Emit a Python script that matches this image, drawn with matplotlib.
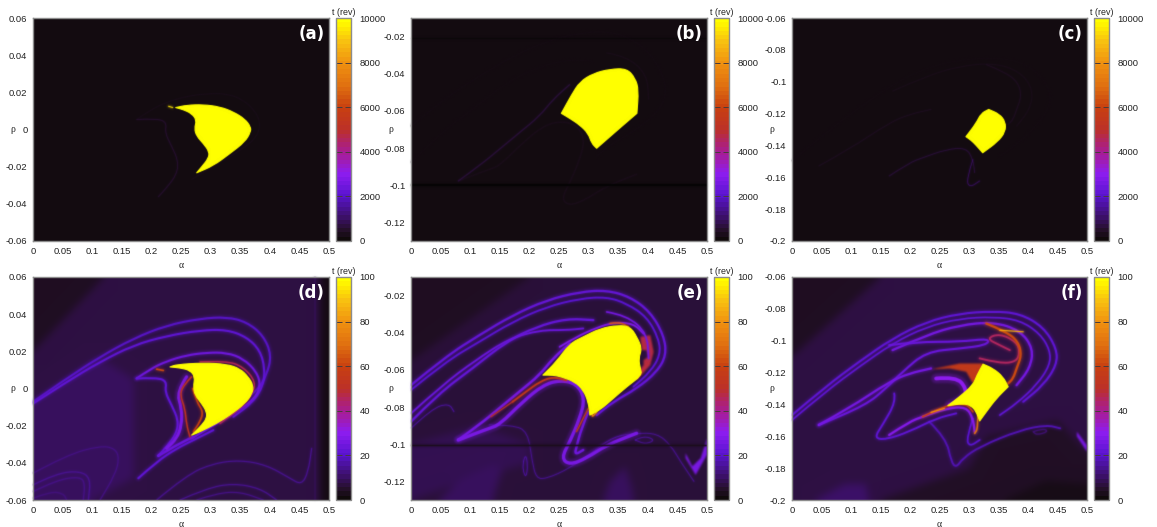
import numpy as np
import matplotlib
matplotlib.use("Agg")
import matplotlib.pyplot as plt
from matplotlib.colors import LinearSegmentedColormap, Normalize
from matplotlib.cm import ScalarMappable
from matplotlib.path import Path
from matplotlib.patches import PathPatch, Polygon

plt.rcParams['font.family'] = ['Liberation Sans', 'DejaVu Sans']

# ---- shared scale ----
CMAP_POS = [0, .04, .10, .20, .30, .36, .42, .50, .60, .70, .80, .90, .97, 1]
CMAP_COL = ['#100a0b', '#24102a', '#3c1068', '#5a14d0', '#8e1cf0', '#a01cb0', '#ac2080',
            '#bc3028', '#c84010', '#e07010', '#f09010', '#f8c010', '#ffee00', '#ffff00']
ALPHA_TICKS = [0, .05, .1, .15, .2, .25, .3, .35, .4, .45, .5]

# ---- panel axes ----
LIMS_AD = (.06, -.06)
LIMS_BE = (-.01, -.13)
LIMS_CF = (-.06, -.2)
TICKS_AD = [.06, .04, .02, 0, -.02, -.04, -.06]
TICKS_BE = [-.02, -.04, -.06, -.08, -.1, -.12]
TICKS_CF = [-.06, -.08, -.1, -.12, -.14, -.16, -.18, -.2]
CB_TICKS_TOP = [0, 2000, 4000, 6000, 8000, 10000]
CB_TICKS_BOT = [0, 20, 40, 60, 80, 100]

# ---- basin outlines (alpha, rho); a repeated vertex is a sharp tip ----
A_CORE_A = [.241, .241, .2596, .2877, .3159, .3384, .3581, .3677, .3677, .3581, .3328, .3046, .2765, .2765, .2849, .2962, .2979, .2877, .2765, .2725, .2765, .268, .2539]
A_CORE_R = [.0118, .0118, .0131, .0134, .0122, .0095, .0056, .0014, -.0013, -.0066, -.0129, -.0195, -.0233, -.0233, -.0201, -.0156, -.012, -.0075, -.0036, .0005, .005, .0086, .0107]
B_CORE_A = [.254, .254, .2711, .2852, .3079, .3362, .3646, .3788, .3845, .3816, .3816, .3589, .3362, .3136, .3136, .3051, .2994, .2852, .2682]
B_CORE_R = [-.0613, -.0613, -.0514, -.0443, -.0398, -.0375, -.0372, -.0424, -.0487, -.0613, -.0613, -.0675, -.0738, -.0801, -.0801, -.0774, -.0721, -.0676, -.064]
C_CORE_A = [.2948, .2948, .3119, .3204, .3334, .3334, .3515, .3617, .3617, .3487, .3232, .3232, .3119, .3034]
C_CORE_R = [-.1345, -.1345, -.1262, -.1199, -.1174, -.1174, -.1203, -.1251, -.1314, -.1377, -.1446, -.1446, -.1398, -.1367]
D_CORE_A = [.2314, .2314, .2427, .2877, .3271, .3496, .3637, .3721, .3705, .3581, .3328, .3102, .2821, .268, .268, .2764, .2849, .2933, .2933, .2849, .2736, .2708, .2736, .2652, .2483]
D_CORE_R = [.0116, .0116, .0129, .0138, .0131, .0107, .0063, .0018, -.0027, -.0081, -.0143, -.0188, -.0233, -.0251, -.0251, -.0224, -.0197, -.0161, -.0125, -.0081, -.0036, .0009, .0063, .0098, .0111]
E_CORE_A = [.2228, .2228, .2455, .2682, .2909, .3192, .3504, .3703, .3816, .3901, .3844, .3873, .3901, .3646, .3419, .3192, .3022, .3022, .2994, .2909, .2767, .254, .2398]
E_CORE_R = [-.0628, -.0628, -.0556, -.0458, -.0422, -.0377, -.0359, -.0368, -.0422, -.0485, -.0538, -.0592, -.0628, -.069, -.0753, -.0816, -.0843, -.0843, -.0771, -.0708, -.0664, -.0637, -.0628]
F_CORE_A = [.3238, .3238, .3408, .3578, .3664, .3664, .3465, .3294, .3181, .3181, .3124, .3039, .2897, .2641, .2641, .284, .3067, .3135]
F_CORE_R = [-.1147, -.1147, -.1174, -.1226, -.1289, -.1289, -.1362, -.1446, -.1504, -.1504, -.1446, -.1408, -.1394, -.1408, -.1408, -.1352, -.1279, -.1216]

# ---- panel (d) filaments ----
D1A = [0, .0569, .1132, .1695, .2258, .2821, .3271, .3609, .389, .4031, .3947, .3778, .3384, .3046]
D1R = [-.0072, .0054, .017, .0269, .034, .0376, .0385, .0358, .0286, .0179, .0072, -.0018, -.009, -.017]
D2A = [0, .0569, .1132, .1695, .2258, .2821, .3271, .3609, .3834, .3918, .389, .3721, .3384]
D2R = [-.0081, .0036, .0143, .0233, .0283, .0313, .0317, .0277, .0206, .0107, .0018, -.0072, -.0152]
D3A = [.1751, .1976, .2258, .2595, .2933, .3271, .3552, .3778, .3845, .3749, .344, .3102, .268]
D3R = [.0054, .0104, .0147, .0179, .0193, .0193, .0161, .009, .0018, -.0054, -.0125, -.0188, -.0269]
D4A = [.1751, .2089, .2258, .2229, .2342, .2455, .2427, .2258, .2117]
D4R = [.0054, .0059, .0039, -.0018, -.009, -.017, -.0242, -.0313, -.0362]
D5A = [.1779, .2089, .2427, .2764, .3046]
D5R = [-.0483, -.0394, -.0322, -.0269, -.0224]
D6A = [.2117, .2427, .2708]
D6R = [-.0362, -.0304, -.026]
D7A = [.2595, .2427, .2511, .2511, .2427, .2258]
D7R = [.0063, -.0018, -.0107, -.0197, -.0269, -.0322]
D8A = [0, .0569, .1132, .1385, .1458, .1385, .1132]
D8R = [-.0456, -.0358, -.0308, -.0322, -.0376, -.0465, -.06]
D9A = [0, .04, .0794, .0974, .0935]
D9R = [-.0519, -.0456, -.0444, -.0483, -.06]
D10A = [0, .04, .0794, .0878, .085]
D10R = [-.0555, -.0492, -.0474, -.051, -.06]
D11A = [0, .0287, .0512, .0569]
D11R = [-.0591, -.0555, -.0564, -.06]
D12A = [.2089, .2595, .3046, .3496, .3947, .4341, .4538, .465, .4707]
D12R = [-.06, -.0465, -.0403, -.0385, -.0412, -.0483, -.0519, -.0448, -.0322]
D13A = [.2483, .2933, .3384, .3834, .4116]
D13R = [-.06, -.0537, -.051, -.0537, -.06]
D14A = [.2764, .3102, .3496, .389]
D14R = [-.06, -.0564, -.0555, -.06]
D15A = [.4763, .4763]
D15R = [.06, -.06]
D16A = [.268, .2539, .2483, .2567, .2595, .2652]
D16R = [.0063, .0018, -.0036, -.0107, -.0197, -.026]
D17A = [.2697, .2764, .2877, .2821, .2708]
D17R = [0, -.0072, -.0125, -.0179, -.0233]
D18A = [.2821, .3271, .3552, .3766, .3693, .3496, .3158]
D18R = [.0143, .0149, .0116, .0036, -.0036, -.0107, -.0188]
D19A = [.2089, .2201]
D19R = [.0104, .0097]
D_LINES = [(D15A, D15R, 8, 1.6), (D8A, D8R, 13, 1), (D9A, D9R, 14, 1.2), (D10A, D10R, 13, 1.2),
           (D11A, D11R, 12, 1.2), (D12A, D12R, 14, 1.1), (D13A, D13R, 14, 1.1), (D14A, D14R, 13, 1.1),
           (D1A, D1R, 19, 2.0), (D2A, D2R, 21, 2.0), (D3A, D3R, 24, 2.0), (D4A, D4R, 21, 2.0),
           (D5A, D5R, 21, 2.0), (D6A, D6R, 23, 2.5), (D7A, D7R, 26, 3.0), (D16A, D16R, 52, 1.4),
           (D17A, D17R, 60, 1.6), (D18A, D18R, 46, 1.4), (D19A, D19R, 62, 1.6)]
D_SHADE = [(3, [0, .12, 0], [.06, .06, .02]),
           (9, [0, .11, .17, .17, .1, 0], [-.007, .017, .005, -.048, -.06, -.06]),
           (1, [.485, .5, .5, .485], [.06, .06, -.06, -.06])]

# ---- panel (e) filaments ----
E1A = [0, .0584, .1151, .1718, .2285, .2852, .3306, .3703, .4043, .4269, .4314, .4155, .3816, .3419, .3136]
E1R = [-.0682, -.0529, -.0413, -.0306, -.0225, -.018, -.0171, -.0207, -.0288, -.0413, -.052, -.061, -.07, -.0771, -.0843]
E2A = [0, .0584, .1151, .1718, .2285, .2852, .3306, .3646, .3986, .4185, .4213, .4043, .3759]
E2R = [-.0708, -.0556, -.0449, -.0341, -.0261, -.0216, -.0207, -.0243, -.0315, -.0431, -.052, -.061, -.069]
E3A = [0, .0471, .1038, .1605, .2115, .2625, .3079]
E3R = [-.0878, -.0726, -.0592, -.0449, -.0368, -.0324, -.0332]
E4A = [0, .0527, .1094, .1661, .2172, .2625, .2909]
E4R = [-.0834, -.0682, -.0547, -.0431, -.0386, -.0386, -.0377]
E5A = [.0799, .1151, .1491, .1831, .2172, .2398, .2682]
E5R = [-.0977, -.0896, -.0807, -.0717, -.0628, -.0538, -.0458]
E6A = [.0799, .1321, .1491, .1888, .2228, .2512, .2795, .2937, .2852, .2682, .254, .2682, .2965, .3306, .381]
E6R = [-.0977, -.0914, -.0896, -.0771, -.0682, -.0655, -.0673, -.0753, -.0861, -.0986, -.1075, -.1111, -.1075, -.1004, -.0941]
E7A = [.2994, .288, .2795, .2767, .2909]
E7R = [-.0825, -.0914, -.1013, -.1057, -.1031]
E8A = [.2512, .2795, .3136, .3419, .3759, .3929]
E8R = [-.0476, -.0422, -.0373, -.0345, -.035, -.0404]
E9A = [.3306, .3646, .3986, .4014]
E9R = [-.0288, -.0306, -.0404, -.0538]
E10A = [.1321, .1718, .1973, .2047, .2115, .2285, .2682, .3079, .3419, .3788, .4156, .4383, .4553, .478]
E10R = [-.0896, -.0896, -.0932, -.1093, -.1183, -.1186, -.1129, -.104, -.0959, -.0941, -.0941, -.1004, -.1093, -.12]
E11A = [.19, .1934, .1973, .1945, .1888, .19]
E11R = [-.1093, -.1048, -.1111, -.1183, -.1138, -.1093]
E12A = [.3788, .3929, .4128, .3958, .3788]
E12R = [-.0977, -.0954, -.0977, -.1, -.0977]
E13A = [0, .0357, .0641, .0726]
E13R = [-.0914, -.0807, -.078, -.0825]
E14A = [.1718, .1945, .2172, .2398, .2625]
E14R = [-.0771, -.0717, -.0664, -.0637, -.0655]
E15A = [.2795, .2909, .2994]
E15R = [-.0932, -.0861, -.0807]
E16A = [.3079, .3034, .3136]
E16R = [-.0816, -.0861, -.0828]
E17A = [.3362, .3504, .3674]
E17R = [-.035, -.0341, -.0368]
E18A = [.1349, .1718]
E18R = [-.0852, -.0771]
E19A = [0, .5]
E19R = [-.1004, -.1004]
E_LINES = [(E10A, E10R, 14, .9), (E11A, E11R, 16, .8), (E12A, E12R, 14, 1.0), (E13A, E13R, 16, .8),
           (E1A, E1R, 22, 2.2), (E2A, E2R, 20, 1.8), (E3A, E3R, 22, 2.2), (E4A, E4R, 23, 1.8),
           (E5A, E5R, 25, 2.5), (E6A, E6R, 26, 3.2), (E7A, E7R, 24, 2.4), (E8A, E8R, 27, 1.8),
           (E9A, E9R, 25, 1.6), (E14A, E14R, 55, 1.8), (E15A, E15R, 60, 1.1), (E16A, E16R, 75, 1.4),
           (E17A, E17R, 65, 1.4), (E18A, E18R, 50, 1.1), (E19A, E19R, 2, 1.4)]
E_SHADE = [(3, [0, .2, 0], [-.01, -.01, -.055]),
           (8, [0, .115, .2, .2, .11, 0], [-.1, -.09, -.1, -.11, -.118, -.13]),
           (9, [.0471, .0868, .1378, .1548, .1378], [-.13, -.1183, -.1111, -.1129, -.13]),
           (9, [.3249, .3362, .3617, .3731, .3759], [-.13, -.12, -.112, -.1236, -.13])]
E_PATCHES = [(26, [.4638, .4752, .4893, .5, .5, .4808, .4638], [-.1048, -.1119, -.1075, -.0968, -.1057, -.1165, -.1075]),
             (48, [.3873, .4043, .4099, .4043, .3816, .3759, .3929, .3929, .4014, .3986, .3901],
              [-.0422, -.0413, -.0503, -.0574, -.0655, -.0637, -.0574, -.0547, -.0529, -.0494, -.0494])]

# ---- panel (f) filaments ----
F1A = [0, .0568, .1136, .1704, .2272, .284, .3408, .3862, .426, .4487, .4487, .426, .3919]
F1R = [-.1467, -.1289, -.1132, -.0986, -.0882, -.0829, -.0815, -.0829, -.0913, -.1049, -.1153, -.1279, -.1383]
F2A = [0, .0568, .1136, .1704, .2272, .284, .3408, .3862, .4203, .4374, .4374, .4146, .3806, .3522]
F2R = [-.1498, -.132, -.1164, -.1017, -.0913, -.0861, -.085, -.0871, -.0955, -.1059, -.1153, -.1279, -.1394, -.1467]
F3A = [.1704, .2272, .284, .3408, .3862, .409, .4033, .3806]
F3R = [-.1059, -.0965, -.0902, -.0882, -.0934, -.1049, -.1174, -.1279]
F4A = [.3294, .3635, .3834, .3891, .3806, .3749, .3664]
F4R = [-.0892, -.0944, -.1007, -.1091, -.1174, -.1237, -.1268]
F5A = [.3522, .3919]
F5R = [-.0934, -.0944]
F6A = [.3181, .3522, .3806, .3862, .3806, .3522, .3294, .3522, .3692]
F6R = [-.1111, -.1143, -.1132, -.107, -.1007, -.0955, -.0986, -.1028, -.1059]
F7A = [.0454, .0966, .1647, .1988, .2357]
F7R = [-.1529, -.1425, -.1258, -.1205, -.1174]
F8A = [.1732, .1761, .1534, .1392, .159, .1988, .2442, .2783]
F8R = [-.1331, -.1383, -.1529, -.1611, -.1621, -.1571, -.1488, -.1456]
F9A = [.1647, .1988, .2215, .2613, .2954, .3067, .3096]
F9R = [-.1592, -.1509, -.1477, -.1425, -.1414, -.1488, -.1571]
F10A = [.2215, .2613, .2954, .3067]
F10R = [-.1477, -.1404, -.1394, -.1446]
F11A = [.2357, .2584]
F11R = [-.145, -.1425]
F12A = [.3152, .3152, .3096]
F12R = [-.1425, -.155, -.1582]
F13A = [.2329, .2613, .2698, .2783, .2897, .3181, .3862, .4317, .4544]
F13R = [-.1509, -.1613, -.176, -.1797, -.1738, -.1665, -.1561, -.1529, -.155]
F14A = [.3067, .2954, .301, .3181]
F14R = [-.1488, -.1613, -.1665, -.1623]
F15A = [.2442, .2783, .2954, .2925, .2669]
F15R = [-.1237, -.1226, -.1299, -.1362, -.1404]
F16A = [.1647, .2101, .284, .3351, .3294, .284, .2272, .1874, .159, .1249, .0454]
F16R = [-.1028, -.1007, -.1007, -.0986, -.1028, -.1049, -.107, -.1195, -.13, -.1404, -.1529]
F17A = [.409, .426, .4345, .4146, .409]
F17R = [-.1571, -.155, -.1571, -.1592, -.1571]
F_LINES = [(F17A, F17R, 11, 1.2), (F13A, F13R, 17, 1.8), (F14A, F14R, 20, 1.6), (F1A, F1R, 21, 2.0),
           (F2A, F2R, 21, 1.6), (F3A, F3R, 25, 2.2), (F16A, F16R, 23, 2.0), (F7A, F7R, 25, 2.2),
           (F8A, F8R, 21, 1.8), (F9A, F9R, 28, 2.2), (F15A, F15R, 30, 3.6), (F6A, F6R, 45, 1.8),
           (F4A, F4R, 62, 2.2), (F5A, F5R, 85, 1.1), (F10A, F10R, 60, 1.6), (F11A, F11R, 80, 1.1),
           (F12A, F12R, 70, 1.5)]
F_SHADE = [(3, [0, .15, 0], [-.06, -.06, -.11]),
           (3.5, [.33, .45, .5, .5, .15, .3], [-.16, -.15, -.17, -.2, -.2, -.18]),
           (1.5, [.36, .43, .5, .5], [-.2, -.188, -.19, -.2]),
           (10, [.04, .09, .125, .13], [-.2, -.19, -.19, -.2])]
F_PATCHES = [(26, [.4828, .4998, .4998, .4828], [-.1571, -.1655, -.1697, -.16]),
             (56, [.2357, .284, .3238, .3181, .3067, .2954, .2669], [-.118, -.1143, -.1143, -.1226, -.1268, -.1195, -.1174])]

# ---- faint traces in the long-time panels, % of scale ----
A_SPECK_A = [.2075, .2085, .229, .236]
A_SPECK_R = [.0107, .0107, .0125, .0118]
FAINT_A = [(D3A, D3R, 2, .8), (D4A, D4R, 5, .8), (A_SPECK_A[:2], A_SPECK_R[:2], 60, .8), (A_SPECK_A[2:], A_SPECK_R[2:], 95, 1.0)]
FAINT_B = [(E6A, E6R, 2, 1.2), (E5A, E5R, 6, 1), (E1A, E1R, 1, 1.2), (E3A, E3R, 1, 1), (E9A, E9R, 2, .9)]
FAINT_C = [(F3A, F3R, 2, .9), (F2A, F2R, 1, .9), (F9A, F9R, 6, .8), (F7A, F7R, 3, .8), (F14A, F14R, 10, .7), (F4A, F4R, 3, .9)]
B_HLINE = [(E19A, [-.1, -.1], -1, 1.8), ([0, .5], [-.0205, -.0205], -1, .5)]

PANELS = [
    ('(a)', (33, 18), 329, LIMS_AD, TICKS_AD, 10000, CB_TICKS_TOP, .8, A_CORE_A, A_CORE_R, FAINT_A, [], []),
    ('(b)', (411, 18), 707, LIMS_BE, TICKS_BE, 10000, CB_TICKS_TOP, .8, B_CORE_A, B_CORE_R, FAINT_B + B_HLINE, [], []),
    ('(c)', (792, 18), 1087, LIMS_CF, TICKS_CF, 10000, CB_TICKS_TOP, .8, C_CORE_A, C_CORE_R, FAINT_C, [], []),
    ('(d)', (33, 277), 329, LIMS_AD, TICKS_AD, 100, CB_TICKS_BOT, 6.5, D_CORE_A, D_CORE_R, D_LINES, D_SHADE, []),
    ('(e)', (411, 277), 707, LIMS_BE, TICKS_BE, 100, CB_TICKS_BOT, 5.5, E_CORE_A, E_CORE_R, E_LINES, E_SHADE, E_PATCHES),
    ('(f)', (792, 277), 1087, LIMS_CF, TICKS_CF, 100, CB_TICKS_BOT, 6.5, F_CORE_A, F_CORE_R, F_LINES, F_SHADE, F_PATCHES),
]

W, H = 1157, 527
GRAY = '#8c8c8c'
TXT = '#222222'
cmap = LinearSegmentedColormap.from_list('t', list(zip(CMAP_POS, CMAP_COL))).resampled(52)
smooth_cmap = LinearSegmentedColormap.from_list('ts', list(zip(CMAP_POS, CMAP_COL)), N=512)
pct = Normalize(0, 100)
fig = plt.figure(figsize=(W / 100, H / 100), dpi=100, facecolor='white')


def box(x0, y0, x1, y1):
    return [x0 / W, 1 - y1 / H, (x1 - x0) / W, (y1 - y0) / H]


def gauss(img, sigma):
    n = int(3 * sigma) + 1
    x = np.arange(-n, n + 1)
    k = np.exp(-x * x / (2 * sigma * sigma))
    k /= k.sum()
    out = img
    for ax_i in (0, 1):
        out = np.apply_along_axis(lambda v: np.convolve(np.pad(v, n, mode='edge'), k, mode='valid'), ax_i, out)
    return out


def soft(sigma):
    def flt(img, dpi):
        n = int(3 * sigma) + 2
        a = img[..., 3]
        pre = np.dstack([img[..., c] * a for c in range(3)] + [a])
        pre = np.pad(pre, ((n, n), (n, n), (0, 0)))
        blurred = np.dstack([gauss(pre[..., c], sigma) for c in range(4)])
        aa = np.maximum(blurred[..., 3], 1e-4)
        res = np.dstack([np.clip(blurred[..., c] / aa, 0, 1) for c in range(3)] + [blurred[..., 3]])
        return res, -n, -n
    return flt


def smooth(a, r):
    verts = [(a[0], r[0])]
    codes = [Path.MOVETO]
    for i in range(1, len(a) - 1):
        verts += [(a[i], r[i]), ((a[i] + a[i + 1]) / 2, (r[i] + r[i + 1]) / 2)]
        codes += [Path.CURVE3, Path.CURVE3]
    verts.append((a[-1], r[-1]))
    codes.append(Path.LINETO)
    return Path(verts, codes)


def smooth_closed(a, r):
    n = len(a)
    mid = lambda i: ((a[i % n] + a[(i + 1) % n]) / 2, (r[i % n] + r[(i + 1) % n]) / 2)
    verts = [mid(-1)]
    codes = [Path.MOVETO]
    for i in range(n):
        verts += [(a[i], r[i]), mid(i)]
        codes += [Path.CURVE3, Path.CURVE3]
    verts.append(verts[0])
    codes.append(Path.CLOSEPOLY)
    return Path(verts, codes)


def shade_layer(lims, base, shades, px_w, px_h):
    off = plt.figure(figsize=(px_w / 100, px_h / 100), dpi=100)
    oa = off.add_axes([0, 0, 1, 1])
    oa.set_axis_off()
    oa.set_xlim(0, .5)
    oa.set_ylim(lims[1], lims[0])
    off.patch.set_facecolor(smooth_cmap(pct(base)))
    for v, sa, sr in shades:
        oa.add_patch(Polygon(list(zip(sa, sr)), closed=True, fc=smooth_cmap(pct(v)), ec='none'))
    off.canvas.draw()
    rgb = np.asarray(off.canvas.buffer_rgba())[..., :3] / 255.0
    plt.close(off)
    return np.dstack([gauss(rgb[..., c], 4.0) for c in range(3)])


for label, (x0, y0), x1, lims, ticks, tmax, cbt, base, ca, cr, lines, shades, patches in PANELS:
    y1 = y0 + 223
    ax = fig.add_axes(box(x0, y0, x1, y1))
    ax.imshow(shade_layer(lims, base, shades, x1 - x0, y1 - y0), extent=[0, .5, lims[1], lims[0]],
              origin='upper', aspect='auto', interpolation='bilinear', zorder=0)
    ax.set_xlim(0, .5)
    ax.set_ylim(lims[1], lims[0])
    for v, sa, sr in patches:
        pg = Polygon(list(zip(sa, sr)), closed=True, fc=smooth_cmap(pct(v)), ec='none', zorder=1)
        pg.set_agg_filter(soft(1.0))
        ax.add_patch(pg)
    for a, r, v, lw in lines:
        col = '#050505' if v < 0 else smooth_cmap(pct(v))
        under = PathPatch(smooth(a, r), fc='none', ec=col, lw=lw * 1.9, alpha=.28, capstyle='round',
                          joinstyle='round', zorder=2)
        under.set_agg_filter(soft(1.2))
        ax.add_patch(under)
        main = PathPatch(smooth(a, r), fc='none', ec=col, lw=lw * .75, capstyle='round',
                         joinstyle='round', zorder=2)
        main.set_agg_filter(soft(.55))
        ax.add_patch(main)
    core = PathPatch(smooth_closed(ca, cr), fc='#ffff00', ec='#ffff00', lw=.8, joinstyle='round', zorder=3)
    core.set_agg_filter(soft(.5))
    ax.add_patch(core)
    ax.set_xticks(ALPHA_TICKS)
    ax.set_xticklabels(['%g' % t for t in ALPHA_TICKS])
    ax.set_yticks(ticks)
    ax.set_yticklabels(['%g' % t for t in ticks])
    ax.tick_params(length=0, labelsize=6.8, pad=4, colors=TXT)
    for s in ax.spines.values():
        s.set_color(GRAY)
        s.set_linewidth(1)
    ax.text(.5, -.108, 'α', transform=ax.transAxes, ha='center', va='center',
            fontsize=7, family='Liberation Serif', color=TXT)
    ax.text(-.068, .5, 'ρ', transform=ax.transAxes, ha='center', va='center',
            fontsize=7, family='Liberation Serif', color=TXT)
    ax.text(.985, .93, label, transform=ax.transAxes, ha='right', va='center', color='white',
            fontsize=12, family='DejaVu Sans', fontweight='bold', zorder=5)
    cx0 = x1 + 7
    cax = fig.add_axes(box(cx0, y0, cx0 + 15, y1))
    cb = fig.colorbar(ScalarMappable(Normalize(0, tmax), cmap), cax=cax, drawedges=False)
    cb.set_ticks(cbt)
    cb.set_ticklabels(['%g' % t for t in cbt])
    cax.tick_params(axis='y', direction='in', length=4, width=.7, color='#4a3a3a', left=True, right=True,
                    labelsize=6.8, pad=6, labelcolor=TXT)
    cb.outline.set_edgecolor(GRAY)
    cb.outline.set_linewidth(1)
    cax.text(.5, 1.005, 't (rev)', transform=cax.transAxes, ha='center', va='bottom',
             fontsize=6.4, color=TXT)

fig.savefig('out.png', dpi=100)
